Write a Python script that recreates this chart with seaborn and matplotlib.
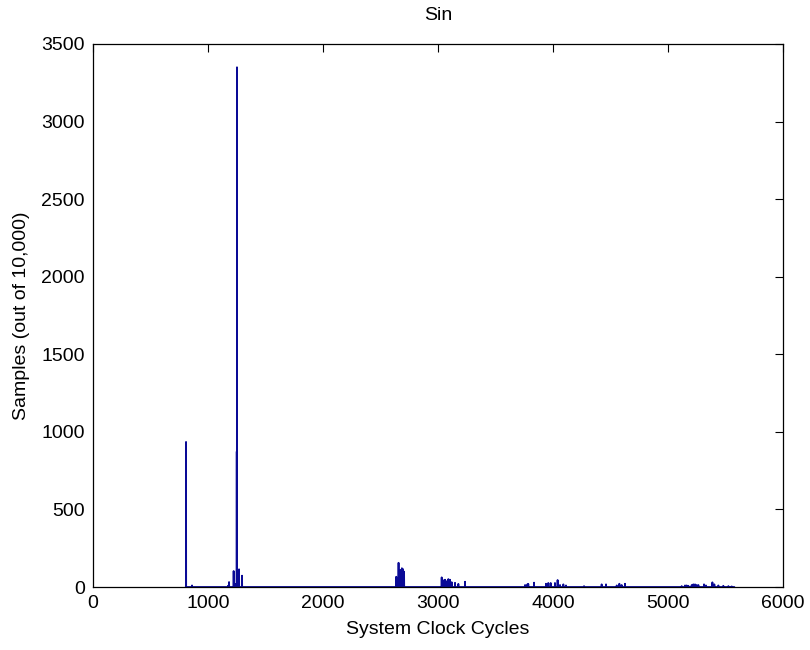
import matplotlib
matplotlib.use("Agg")
import matplotlib.pyplot as plt
import seaborn as sns
import pandas as pd

# Histogram of execution time: clock-cycle bin and number of samples in it
cycles = [809, 861, 1174, 1183, 1223, 1237, 1250, 1252, 1270, 1296,
          2637, 2657, 2672, 2686, 2696, 2705,
          3032, 3046, 3061, 3075, 3090, 3104, 3119, 3148, 3177, 3235,
          3757, 3777, 3785, 3835, 3939, 3959, 3980, 4017, 4040, 4061, 4090, 4113,
          4270, 4423, 4461, 4554, 4577, 4597, 4626,
          5119, 5148, 5162, 5177, 5206, 5220, 5235, 5249, 5264, 5313, 5330,
          5386, 5403, 5438, 5481, 5525, 5554]
samples = [935, 10, 8, 32, 103, 20, 873, 3350, 114, 73,
           66, 156, 110, 121, 115, 99,
           62, 43, 47, 37, 51, 47, 31, 27, 20, 34,
           13, 17, 20, 28, 21, 26, 26, 26, 45, 13, 17, 10,
           6, 17, 17, 10, 21, 13, 21,
           6, 10, 10, 8, 13, 17, 17, 13, 13, 17, 10,
           30, 17, 10, 8, 6, 4]
first_cycle, last_cycle = 806, 5577

# Each bin is one clock cycle wide: zero on either side of a non-empty bin
xs, ys = [first_cycle], [0]
for c, n in zip(cycles, samples):
    xs += [c - 1, c, c + 1]
    ys += [0, n, 0]
xs.append(last_cycle)
ys.append(0)
df = pd.DataFrame({"cycle": xs, "count": ys})

sns.set_style("white")
plt.rcParams["font.family"] = ["Liberation Sans", "DejaVu Sans"]
plt.rcParams["text.color"] = "black"
plt.rcParams["axes.labelcolor"] = "black"
plt.rcParams["xtick.color"] = "black"
plt.rcParams["ytick.color"] = "black"
plt.rcParams["xtick.direction"] = "in"
plt.rcParams["ytick.direction"] = "in"

fig = plt.figure(figsize=(8.1, 6.5), dpi=100)
ax = fig.add_axes([93 / 810, 1 - 587 / 650, 690 / 810, 543 / 650])

sns.lineplot(data=df, x="cycle", y="count", ax=ax, sort=True, estimator=None,
             color="#0a0a96", linewidth=1.3)

ax.set_xlim(0, 6000)
ax.set_ylim(0, 3500)
ax.set_xticks(range(0, 6001, 1000))
ax.set_yticks(range(0, 3501, 500))
ax.tick_params(axis="both", which="both", direction="in", length=6, width=0.8,
               color="black", labelcolor="black", labelsize=14,
               top=True, right=True, pad=6)
for s in ax.spines.values():
    s.set_visible(True)
    s.set_color("black")
    s.set_linewidth(0.9)

ax.set_title("Sin", fontsize=14, pad=17, color="black")
ax.set_xlabel("System Clock Cycles", fontsize=14, labelpad=6, color="black")
ax.set_ylabel("Samples (out of 10,000)", fontsize=14, labelpad=8, color="black")

fig.savefig("out.png", dpi=100, facecolor="white")
